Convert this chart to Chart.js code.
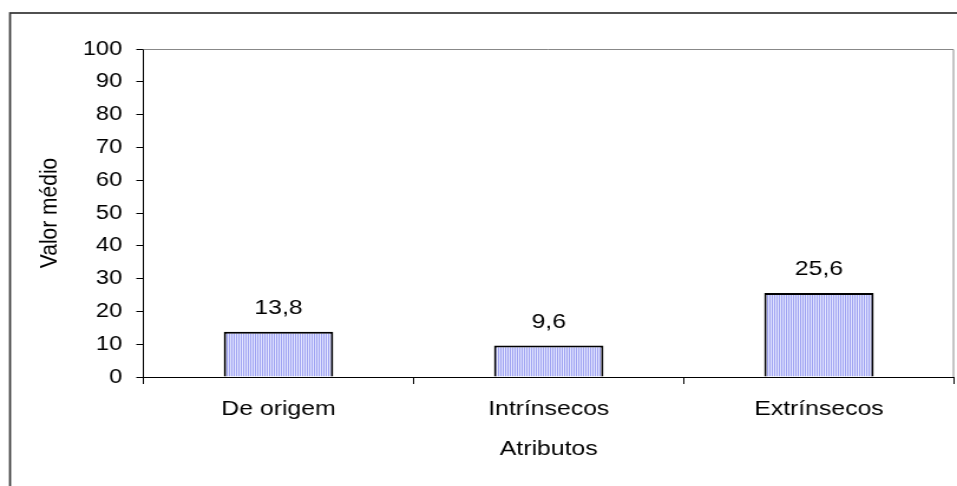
<!DOCTYPE html>
<html>
<head>
<meta charset="utf-8">
<script src="https://cdn.jsdelivr.net/npm/chart.js@4/dist/chart.umd.min.js"></script>
<style>
  html, body { margin: 0; padding: 0; background: #fff; }
</style>
</head>
<body>
<canvas id="chart" width="811" height="486" style="display:block;width:957px;height:486px"></canvas>
<script>
const categories = ["De origem", "Intrínsecos", "Extrínsecos"]
const values = [13.8, 9.6, 25.6]
const yTicks = [0, 10, 20, 30, 40, 50, 60, 70, 80, 90, 100]

const font = "'Liberation Sans', Arial, sans-serif"

// vertical stripe fill like the old spreadsheet bars
function stripes() {
  const c = document.createElement("canvas")
  c.width = 2
  c.height = 4
  const g = c.getContext("2d")
  g.fillStyle = "#9ea2f2"
  g.fillRect(0, 0, 1, 4)
  g.fillStyle = "#e4e6ff"
  g.fillRect(1, 0, 1, 4)
  return g.createPattern(c, "repeat")
}

const frame = {
  id: "frame",
  beforeDraw(chart) {
    const ctx = chart.ctx
    ctx.save()
    ctx.strokeStyle = "#333"
    ctx.lineWidth = 1.7
    ctx.strokeRect(8.5, 13, 1000, 1000)
    ctx.restore()
  },
  afterDraw(chart) {
    const a = chart.chartArea
    const ctx = chart.ctx
    ctx.save()
    ctx.strokeStyle = "#888"
    ctx.lineWidth = 1
    ctx.beginPath()
    ctx.moveTo(a.left, a.top + 0.5)
    ctx.lineTo(a.right - 0.5, a.top + 0.5)
    ctx.lineTo(a.right - 0.5, a.bottom)
    ctx.stroke()
    ctx.restore()
  }
}

const valueLabels = {
  id: "valueLabels",
  afterDatasetsDraw(chart) {
    const ctx = chart.ctx
    const meta = chart.getDatasetMeta(0)
    ctx.save()
    ctx.font = "21px " + font
    ctx.fillStyle = "#000"
    ctx.textAlign = "center"
    ctx.textBaseline = "alphabetic"
    meta.data.forEach(function(bar, i) {
      ctx.fillText(values[i].toFixed(1).replace(".", ","), bar.x, bar.y - 18)
    })
    ctx.restore()
  }
}

const ctx = document.getElementById("chart")

new Chart(ctx, {
  type: "bar",
  data: {
    labels: categories,
    datasets: [
      {
        data: values,
        backgroundColor: stripes(),
        borderColor: "#000",
        borderWidth: 2,
        barPercentage: 0.405,
        categoryPercentage: 1
      }
    ]
  },
  options: {
    responsive: false,
    animation: false,
    events: [],
    plugins: {
      legend: { display: false },
      tooltip: { enabled: false },
      title: { display: false }
    },
    layout: {
      padding: { top: 49, right: 2.5, bottom: 0, left: 0 }
    },
    scales: {
      x: {
        offset: true,
        grid: {
          offset: true,
          drawOnChartArea: false,
          drawTicks: true,
          tickLength: 7,
          color: "#000"
        },
        border: { display: true, color: "#000", width: 1 },
        ticks: {
          color: "#000",
          padding: 13,
          font: { family: font, size: 21 }
        },
        title: {
          display: true,
          text: "Atributos",
          color: "#000",
          font: { family: font, size: 21 },
          padding: { top: 0, bottom: 24 }
        },
        afterFit(scale) {
          scale.height = 109
        }
      },
      y: {
        min: 0,
        max: 100,
        afterBuildTicks(scale) {
          scale.ticks = yTicks.map(v => ({ value: v }))
        },
        grid: {
          drawOnChartArea: false,
          drawTicks: true,
          tickLength: 6,
          color: "#000"
        },
        border: { display: true, color: "#000", width: 1 },
        ticks: {
          color: "#000",
          padding: 12,
          font: { family: font, size: 20 }
        },
        title: {
          display: true,
          text: "Valor médio",
          color: "#000",
          font: { family: font, size: 21 },
          padding: { top: 30, bottom: 0 }
        },
        afterFit(scale) {
          scale.width = 121.5
        }
      }
    }
  },
  plugins: [frame, valueLabels]
})
</script>
</body>
</html>
